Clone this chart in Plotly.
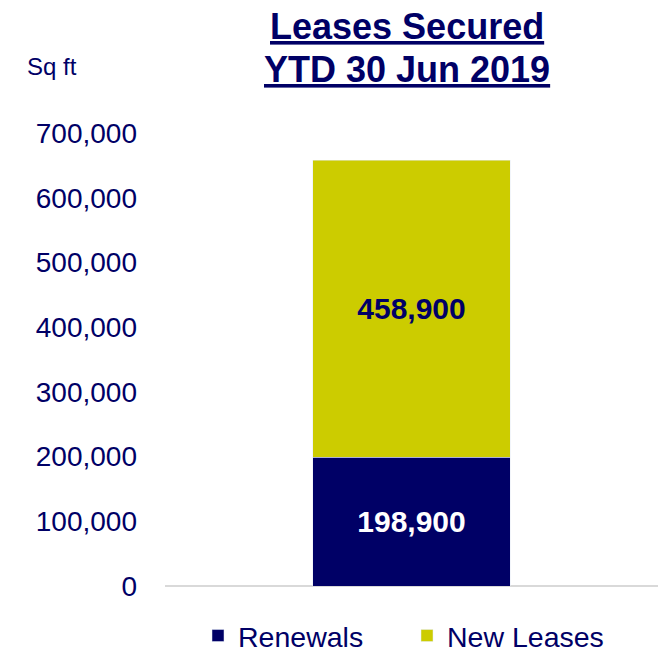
import plotly.graph_objects as go

categories = ["YTD 30 Jun 2019"]
series_names = ["Renewals", "New Leases"]
renewals = [198900]
new_leases = [458900]
tick_values = [0, 100000, 200000, 300000, 400000, 500000, 600000, 700000]

NAVY = "#000066"
YELLOW = "#CCCC00"
FONT = "Arial, Liberation Sans, sans-serif"

fig = go.Figure()
fig.add_trace(go.Bar(
    x=[0], y=renewals, name=series_names[0], marker_color=NAVY, width=0.4,
    text=[f"{v:,}" for v in renewals], textposition="inside", insidetextanchor="middle",
    textfont=dict(family=FONT, size=30, color="white", weight="bold"),
    hoverinfo="skip", constraintext="none",
))
fig.add_trace(go.Bar(
    x=[0], y=new_leases, name=series_names[1], marker_color=YELLOW, width=0.4,
    text=[f"{v:,}" for v in new_leases], textposition="inside", insidetextanchor="middle",
    textfont=dict(family=FONT, size=30, color=NAVY, weight="bold"),
    hoverinfo="skip", constraintext="none",
))

fig.update_layout(
    width=658, height=653,
    margin=dict(l=165, r=0, t=133, b=67),
    barmode="stack",
    plot_bgcolor="white", paper_bgcolor="white",
    font=dict(family=FONT, color=NAVY),
    showlegend=True,
    legend=dict(orientation="h", xref="container", yref="container",
                x=198/658, xanchor="left", y=17/653, yanchor="middle",
                font=dict(size=28.5, color=NAVY), traceorder="normal",
                entrywidth=164, entrywidthmode="pixels",
                itemclick=False, itemdoubleclick=False),
    xaxis=dict(range=[-0.5, 0.5], showticklabels=False, showgrid=False,
               zeroline=False, showline=False, fixedrange=True),
    yaxis=dict(range=[0, 700000], tickvals=tick_values, tickformat=",",
               showgrid=False, zeroline=True, zerolinecolor="#d9d9d9", zerolinewidth=1.5,
               tickfont=dict(size=28, color=NAVY), ticklabelstandoff=27,
               showline=False, fixedrange=True),
    annotations=[
        dict(text="<b><u>" + "Leases Secured" + "</u></b>", xref="paper", yref="paper",
             x=0.49, y=1.0 + (133 - 27) / 453, xanchor="center", yanchor="middle",
             showarrow=False, font=dict(size=36, color=NAVY)),
        dict(text="<b><u>" + categories[0] + "</u></b>", xref="paper", yref="paper",
             x=0.49, y=1.0 + (133 - 70) / 453, xanchor="center", yanchor="middle",
             showarrow=False, font=dict(size=36, color=NAVY)),
        dict(text="Sq ft", xref="paper", yref="paper",
             x=-(165 - 25) / 493, y=1.0 + (133 - 67) / 453, xanchor="left", yanchor="middle",
             showarrow=False, font=dict(size=24, color=NAVY)),
    ],
)

fig.write_html("out.html")
